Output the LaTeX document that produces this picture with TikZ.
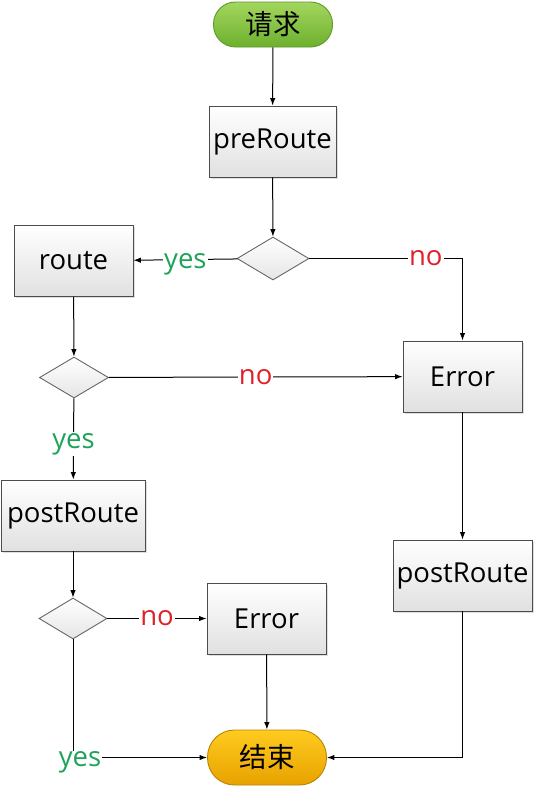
\documentclass[tikz,border=0pt]{standalone}
\usepackage{fontspec}
\setmainfont{Open Sans}
\newfontfamily\cjk{Noto Sans CJK SC}
\usetikzlibrary{shapes.geometric,arrows.meta,shadows}
\definecolor{gtop}{HTML}{A3D65E}
\definecolor{gbot}{HTML}{6DB02E}
\definecolor{gdraw}{HTML}{5E9A2A}
\definecolor{otop}{HTML}{FFCB1F}
\definecolor{obot}{HTML}{E8A200}
\definecolor{odraw}{HTML}{B88400}
\definecolor{yescol}{HTML}{1EA35A}
\definecolor{nocol}{HTML}{E0202A}
\begin{document}
\begin{tikzpicture}[x=1pt,y=-1pt,
  txt/.style={font=\fontsize{27.5}{31}\selectfont},
  box/.style={txt, draw=black!70, line width=0.9pt, top color=white, bottom color=black!12,
    minimum width=119pt, minimum height=71pt, inner sep=0pt,
    drop shadow={shadow xshift=1.5pt, shadow yshift=-1.5pt, opacity=0.25}},
  dia/.style={diamond, draw=black!60, line width=0.9pt, top color=white, bottom color=black!10,
    minimum width=72pt, minimum height=43pt, inner sep=0pt},
  term/.style={txt, line width=0.9pt, minimum width=119pt, inner sep=0pt},
  arr/.style={-{Latex[length=7.5pt,width=5.5pt]}, line width=1pt},
  lab/.style={txt, fill=white, inner sep=1pt},
  ylab/.style={lab, text=yescol, yshift=-5pt},
  nlab/.style={lab, text=nocol}
]
\useasboundingbox (0,0) rectangle (536,790);
\node[term, rounded corners=22pt, minimum height=45pt, draw=gdraw, top color=gtop, bottom color=gbot] (start) at (273,24.5) {\cjk 请求};
\node[box, minimum width=127pt] (pre) at (272.5,141.5) {preRoute};
\node[dia] (d1) at (273,258.5) {};
\node[box] (route) at (73.5,261) {route};
\node[box] (err1) at (462.5,376.5) {Error};
\node[dia, minimum width=69pt, minimum height=41pt] (d2) at (74,377.5) {};
\node[box, minimum width=144pt] (post1) at (73,515.5) {postRoute};
\node[dia, minimum width=68pt, minimum height=41pt] (d3) at (73,618.5) {};
\node[box] (err2) at (266.5,618.5) {Error};
\node[box, minimum width=139pt] (post2) at (462.5,575.5) {postRoute};
\node[term, rounded corners=27pt, minimum height=55pt, draw=odraw, top color=otop, bottom color=obot] (end) at (267,757.5) {\cjk 结束};

\draw[arr] (start) -- (pre);
\draw[arr] (pre) -- (d1);
\draw[arr] (d1) -- node[ylab]{yes} (route);
\draw[arr] (d1.east) -| node[nlab, pos=0.38]{no} (err1.north);
\draw[arr] (route) -- (d2);
\draw[arr] (d2) -- node[nlab]{no} (err1);
\draw[arr] (d2) -- node[ylab]{yes} (post1);
\draw[arr] (post1) -- (d3);
\draw[arr] (d3) -- node[nlab]{no} (err2);
\draw[arr] (err2) -- (end);
\draw[arr] (d3.south) |- node[ylab, xshift=7pt]{yes} (end.west);
\draw[arr] (err1) -- (post2);
\draw[arr] (post2.south) |- (end.east);
\end{tikzpicture}
\end{document}
